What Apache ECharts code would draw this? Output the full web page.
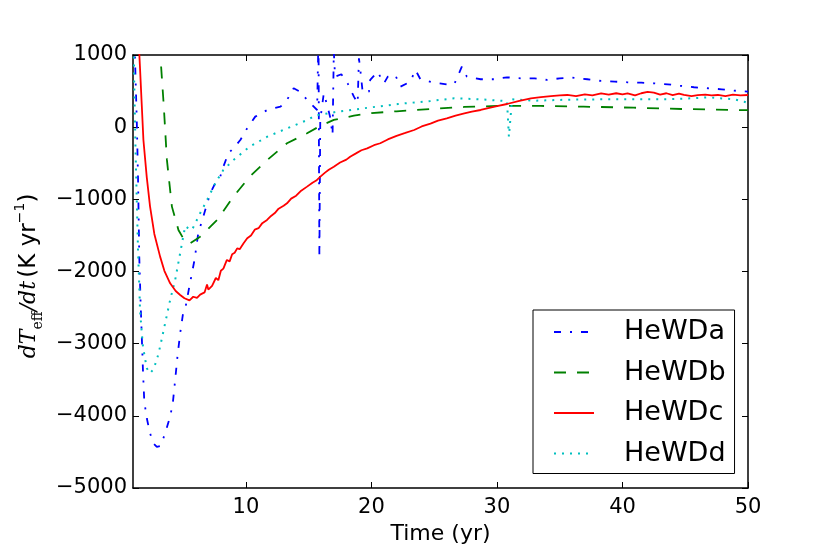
<!DOCTYPE html>
<html>
<head>
<meta charset="utf-8">
<script src="https://cdn.jsdelivr.net/npm/echarts@6/dist/echarts.min.js"></script>
<style>html,body{margin:0;padding:0;background:#fff;}#c{width:830px;height:554px;}</style>
</head>
<body>
<div id="c"></div>
<script>
const seriesNames = ['HeWDa', 'HeWDb', 'HeWDc', 'HeWDd'];
const xTicks = [10, 20, 30, 40, 50];

const hewdaX = [1.12,1.2,1.3,1.4,1.5,1.6,1.7,1.8,1.9,2.1,2.36,2.62,2.9,3.2,3.56,3.96,4.17,4.36,4.54,4.76,4.97,5.2,5.5,5.9,6.2,6.6,7.15,7.55,7.95,8.2,8.6,9.0,9.55,10.1,10.74,11.7,12.75,13.27,13.8,14.3,15.0,15.67,15.78,15.85,15.92,16.2,16.5,16.7,16.9,17.0,17.1,17.6,18.1,18.6,18.9,19.0,19.1,19.3,19.8,19.9,20.5,20.7,21.0,21.3,21.9,22.3,23.1,23.5,23.9,25.0,26.0,26.6,27.2,27.6,28.7,29.8,30.8,31.9,33.0,34.0,35.0,36.0,37.2,38.3,39.4,40.4,41.5,42.5,43.6,44.7,45.7,46.8,47.9,48.9,50];
const hewdaY = [1200,700,100,-700,-1800,-2400,-2900,-3400,-3800,-4034,-4242,-4380,-4430,-4418,-4242,-4011,-3826,-3503,-3180,-2856,-2602,-2480,-2200,-1840,-1470,-1240,-916,-778,-686,-547,-362,-293,-178,-15,146,238,284,377,539,492,353,238,1300,-1780,100,469,284,146,-108,1050,700,733,608,423,331,955,816,480,492,654,770,700,608,700,723,561,631,793,664,617,594,598,838,700,664,664,691,677,677,654,677,686,664,640,631,622,617,608,594,571,553,539,525,506,492];

const hewdbX = [3.24,3.45,3.7,4.1,4.62,5.0,5.5,6.35,7.7,9.0,10.3,11.7,13.27,14.87,15.9,17.0,18.6,20.0,22.0,24.7,27.4,30.0,33.5,36.9,40.9,44.7,48.9,50];
const hewdbY = [840,300,-450,-1101,-1424,-1540,-1615,-1517,-1286,-963,-686,-455,-223,-85,17,100,160,195,220,252,280,294,294,284,270,252,238,236];

const hewdcX = [1.45,1.55,1.7,1.83,2.1,2.36,2.7,3.16,3.5,3.96,4.4,4.76,5.1,5.5,5.8,6.1,6.35,6.7,6.9,7.0,7.3,7.6,7.8,8.0,8.2,8.48,8.7,8.9,9.1,9.3,9.5,9.81,10.1,10.4,10.7,11.0,11.3,11.68,12.0,12.3,12.6,13.0,13.27,13.6,14.0,14.4,14.87,15.3,15.6,15.93,16.3,16.6,17.0,17.5,18.0,18.3,18.8,19.2,19.66,20.2,20.7,21.3,22.0,22.7,23.4,24.0,24.7,25.3,26.0,26.7,27.4,28.0,28.7,29.3,30.0,30.8,31.7,32.7,33.5,34.3,35.0,35.6,36.3,37.0,37.6,38.3,38.9,39.5,40.0,40.4,41.0,41.5,42.0,42.5,43.0,43.5,44.0,44.5,44.9,45.5,46.0,46.6,47.1,47.6,48.2,48.8,49.4,50];
const hewdcY = [1200,850,300,-178,-700,-1101,-1480,-1794,-1990,-2163,-2270,-2325,-2370,-2400,-2350,-2365,-2320,-2290,-2180,-2250,-2200,-2090,-2120,-1990,-1960,-1840,-1860,-1760,-1740,-1680,-1690,-1609,-1540,-1500,-1420,-1400,-1330,-1286,-1230,-1190,-1130,-1090,-1055,-990,-950,-880,-824,-770,-740,-686,-630,-590,-547,-490,-450,-409,-360,-320,-293,-250,-223,-170,-120,-80,-39,10,50,90,123,160,190,215,238,265,290,321,360,400,415,430,440,446,430,455,440,469,450,470,455,469,440,470,490,478,450,470,445,465,446,430,445,450,440,446,430,450,440,446];

const hewddX = [1.05,1.1,1.2,1.3,1.4,1.5,1.56,1.7,1.8,1.98,2.1,2.36,2.6,2.9,3.16,3.56,3.96,4.36,4.7,5.16,5.4,5.7,6.35,6.9,7.55,8.2,9.0,10.3,11.7,13.3,14.9,15.5,17.3,19.4,22.1,24.7,26.6,28.7,30.8,30.95,31.05,31.2,33,35.5,38.3,40.5,43.6,45.5,46.8,48.9,49.7,49.9,50];
const hewddY = [1200,600,-300,-1000,-1700,-2200,-2536,-2850,-3050,-3226,-3341,-3410,-3360,-3226,-3041,-2717,-2394,-2117,-1800,-1370,-1400,-1424,-1193,-1009,-778,-593,-455,-270,-132,-15,100,160,215,262,321,363,400,386,360,-132,-132,386,367,380,386,386,386,400,414,386,353,340,330];

function zip(xs, ys) { return xs.map((x, i) => [x, ys[i]]); }

const chart = echarts.init(document.getElementById('c'), null, { renderer: 'canvas' });
const tickFont = { fontFamily: 'DejaVu Sans', fontSize: 21, color: '#000' };
const styles = [
  { color: '#0000ff', type: [7, 9, 2, 9], width: 1.8 },
  { color: '#008000', type: [12, 11], width: 1.8 },
  { color: '#ff0000', type: 'solid', width: 1.8 },
  { color: '#00bfbf', type: [2, 6], width: 2 }
];
const datas = [zip(hewdaX, hewdaY), zip(hewdbX, hewdbY), zip(hewdcX, hewdcY), zip(hewddX, hewddY)];
const axLine = { show: true, onZero: false, lineStyle: { color: '#000', width: 1.5 } };

chart.setOption({
  animation: false,
  backgroundColor: '#fff',
  grid: { left: 133, right: 82, top: 55, bottom: 66 },
  legend: {
    orient: 'vertical',
    left: 533, top: 310,
    padding: [7, 9, 5, 20],
    itemWidth: 40, itemHeight: 14, itemGap: 10.5,
    backgroundColor: '#fff', borderColor: '#000', borderWidth: 1,
    itemStyle: { opacity: 0, borderWidth: 0 },
    textStyle: { fontFamily: 'DejaVu Sans', fontSize: 27, color: '#000', lineHeight: 30, padding: [0, 0, 0, 25] },
    data: seriesNames
  },
  xAxis: [{
    type: 'value', min: 1, max: 50, position: 'bottom',
    name: 'Time (yr)', nameLocation: 'middle', nameGap: 32,
    nameTextStyle: { fontFamily: 'DejaVu Sans', fontSize: 22, color: '#000' },
    axisLine: axLine,
    axisTick: { show: true, inside: true, length: 6, customValues: xTicks, lineStyle: { color: '#000', width: 1 } },
    axisLabel: { customValues: xTicks, margin: 9, ...tickFont },
    splitLine: { show: false }
  }, {
    type: 'value', min: 1, max: 50, position: 'top',
    axisLine: axLine,
    axisTick: { show: true, inside: true, length: 6, customValues: xTicks, lineStyle: { color: '#000', width: 1 } },
    axisLabel: { show: false },
    splitLine: { show: false }
  }],
  yAxis: [{
    type: 'value', min: -5000, max: 1000, interval: 1000, position: 'left',
    axisLine: axLine,
    axisTick: { show: true, inside: true, length: 6, lineStyle: { color: '#000', width: 1 } },
    axisLabel: { margin: 6, ...tickFont, formatter: v => String(v).replace('-', '\u2212') },
    splitLine: { show: false }
  }, {
    type: 'value', min: -5000, max: 1000, interval: 1000, position: 'right',
    axisLine: axLine,
    axisTick: { show: true, inside: true, length: 6, lineStyle: { color: '#000', width: 1 } },
    axisLabel: { show: false },
    splitLine: { show: false }
  }],
  graphic: [{
    type: 'text',
    x: 29, y: 276,
    rotation: Math.PI / 2,
    style: {
      text: '{i|dT}{sub|eff}{i|/dt} {s|(K yr}{sup|\u22121}{s|)}',
      align: 'center', verticalAlign: 'middle',
      rich: {
        i: { fontFamily: 'DejaVu Serif', fontStyle: 'italic', fontSize: 22, lineHeight: 32, fill: '#000' },
        sub: { fontFamily: 'DejaVu Serif', fontSize: 14, lineHeight: 14, verticalAlign: 'bottom', fill: '#000' },
        s: { fontFamily: 'DejaVu Sans', fontSize: 23, lineHeight: 32, fill: '#000' },
        sup: { fontFamily: 'DejaVu Sans', fontSize: 14, lineHeight: 14, verticalAlign: 'top', fill: '#000' }
      }
    }
  }],
  series: seriesNames.map((n, i) => ({
    name: n, type: 'line', xAxisIndex: 0, yAxisIndex: 0,
    data: datas[i], showSymbol: false, symbol: 'none', clip: true,
    lineStyle: styles[i], itemStyle: { color: styles[i].color },
    z: i === 2 ? 3 : 2
  }))
});
</script>
</body>
</html>
